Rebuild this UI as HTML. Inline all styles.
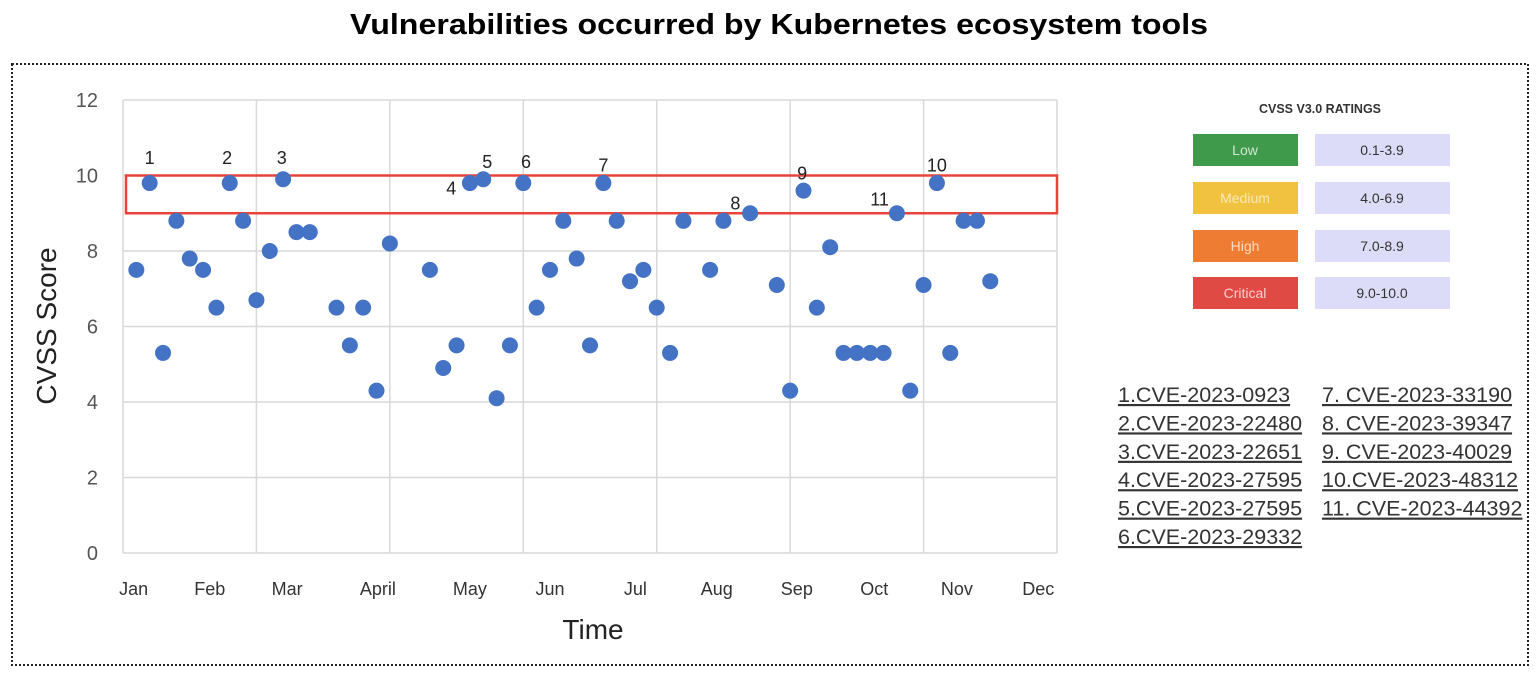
<!DOCTYPE html>
<html><head><meta charset="utf-8"><style>
body{margin:0;background:#fff;}
svg{display:block;font-family:"Liberation Sans",sans-serif;}
</style></head><body>
<svg id="chart" width="1536" height="677" viewBox="0 0 1536 677">
<text x="350" y="34" textLength="858" lengthAdjust="spacingAndGlyphs" font-size="29" font-weight="bold" fill="#000">Vulnerabilities occurred by Kubernetes ecosystem tools</text>
<rect x="12" y="64" width="1516" height="601" fill="none" stroke="#222" stroke-width="2" stroke-dasharray="2,2"/>
<g id="grid"></g>
<g id="ylabels"></g>
<g id="xlabels"></g>
<rect id="critbox" fill="none" stroke="#e8443a" stroke-width="2.5"/>
<g id="points"></g>
<g id="annos"></g>
<text x="56" y="326" transform="rotate(-90 56 326)" text-anchor="middle" font-size="28" fill="#222">CVSS Score</text>
<text x="593" y="639" text-anchor="middle" font-size="28" fill="#222">Time</text>

<g>
<text x="1320" y="113" text-anchor="middle" font-size="12.5" font-weight="bold" fill="#333">CVSS V3.0 RATINGS</text>
<rect x="1193" y="134" width="105" height="32" fill="#3f9a4c"/>
<text x="1245" y="155" text-anchor="middle" font-size="14" fill="#cfe8cf">Low</text>
<rect x="1315" y="134" width="135" height="32" fill="#dcdcf8"/>
<text x="1382" y="155" text-anchor="middle" font-size="14" fill="#333">0.1-3.9</text>
<rect x="1193" y="182" width="105" height="32" fill="#f1c23f"/>
<text x="1245" y="203" text-anchor="middle" font-size="14" fill="#f8e9b4">Medium</text>
<rect x="1315" y="182" width="135" height="32" fill="#dcdcf8"/>
<text x="1382" y="203" text-anchor="middle" font-size="14" fill="#333">4.0-6.9</text>
<rect x="1193" y="230" width="105" height="32" fill="#ee7d33"/>
<text x="1245" y="251" text-anchor="middle" font-size="14" fill="#fbdcc4">High</text>
<rect x="1315" y="230" width="135" height="32" fill="#dcdcf8"/>
<text x="1382" y="251" text-anchor="middle" font-size="14" fill="#333">7.0-8.9</text>
<rect x="1193" y="277" width="105" height="32" fill="#df4a45"/>
<text x="1245" y="298" text-anchor="middle" font-size="14" fill="#f8d0cc">Critical</text>
<rect x="1315" y="277" width="135" height="32" fill="#dcdcf8"/>
<text x="1382" y="298" text-anchor="middle" font-size="14" fill="#333">9.0-10.0</text>
</g>
<g id="cves"></g>
</svg>
<script>
const months = ["Jan","Feb","Mar","April","May","Jun","Jul","Aug","Sep","Oct","Nov","Dec"];
const monthPos = [0.8,6.5,12.3,19.1,26,32,38.4,44.5,50.5,56.3,62.5,68.6];
const yTicks = [0,2,4,6,8,10,12];
const xIdx = [1,2,3,4,5,6,7,8,9,10,11,12,13,14,16,17,18,19,20,23,24,25,26,27,28,29,30,31,32,33,34,35,36,37,38,39,40,41,42,44,45,47,49,50,51,52,53,54,55,56,57,58,59,60,61,62,63,64,65];
const scores = [7.5,9.8,5.3,8.8,7.8,7.5,6.5,9.8,8.8,6.7,8.0,9.9,8.5,8.5,6.5,5.5,6.5,4.3,8.2,7.5,4.9,5.5,9.8,9.9,4.1,5.5,9.8,6.5,7.5,8.8,7.8,5.5,9.8,8.8,7.2,7.5,6.5,5.3,8.8,7.5,8.8,9.0,7.1,4.3,9.6,6.5,8.1,5.3,5.3,5.3,5.3,9.0,4.3,7.1,9.8,5.3,8.8,8.8,7.2];
const annoLabels = ["1","2","3","4","5","6","7","8","9","10","11"];
const annoX = [2,7.8,11.9,24.6,27.3,30.2,36,45.9,50.9,61,56.7];
const annoY = [10.3,10.3,10.3,9.5,10.2,10.2,10.1,9.1,9.9,10.1,9.2];
const critRange = [9.0,10.0];
const cveList = ["1.CVE-2023-0923","2.CVE-2023-22480","3.CVE-2023-22651","4.CVE-2023-27595","5.CVE-2023-27595","6.CVE-2023-29332","7. CVE-2023-33190","8. CVE-2023-39347","9. CVE-2023-40029","10.CVE-2023-48312","11. CVE-2023-44392"];

const X0=123,X1=1057,Y0=553,Y1=100,XMAX=70;
const sx=v=>X0+(X1-X0)*v/XMAX;
const sy=v=>Y0-(Y0-Y1)*v/12;
const NS="http://www.w3.org/2000/svg";
function mk(tag,attrs,parent,text){const e=document.createElementNS(NS,tag);for(const k in attrs)e.setAttribute(k,attrs[k]);if(text!==undefined)e.textContent=text;parent.appendChild(e);return e;}
const grid=document.getElementById('grid');
yTicks.forEach(t=>{const l=mk('line',{x1:X0,x2:X1,y1:sy(t),y2:sy(t),stroke:'#d9d9d9','stroke-width':1.5},grid);


const tx=mk('text',{x:98,y:sy(t)+7,'text-anchor':'end','font-size':20,fill:'#555'},document.getElementById('ylabels'),t);

});
for(let i=0;i<=7;i++){const l=mk('line',{x1:sx(i*10),x2:sx(i*10),y1:Y1,y2:Y0,stroke:'#d9d9d9','stroke-width':1.5},grid);

}
months.forEach((m,i)=>{const t=mk('text',{x:sx(monthPos[i]),y:595,'text-anchor':'middle','font-size':18,fill:'#333'},document.getElementById('xlabels'),m);

});
const cb=document.getElementById('critbox');
cb.setAttribute('x',126);cb.setAttribute('width',X1-126);
cb.setAttribute('y',sy(critRange[1]));cb.setAttribute('height',sy(critRange[0])-sy(critRange[1]));
const pts=document.getElementById('points');
xIdx.forEach((x,i)=>{const c=mk('circle',{cx:sx(x),cy:sy(scores[i]),r:8,fill:'#4472c4'},pts);

});
const an=document.getElementById('annos');
annoLabels.forEach((l,i)=>{const t=mk('text',{x:sx(annoX[i]),y:sy(annoY[i]),'text-anchor':'middle','font-size':18,fill:'#222'},an,l);

});
const cv=document.getElementById('cves');
cveList.forEach((s,i)=>{const col=i<6?0:1,row=i<6?i:i-6;
const t=mk('text',{x:col?1322:1118,y:402+row*28.4,'font-size':21.5,fill:'#333','text-decoration':'underline'},cv,s);

});
</script>
</body></html>
